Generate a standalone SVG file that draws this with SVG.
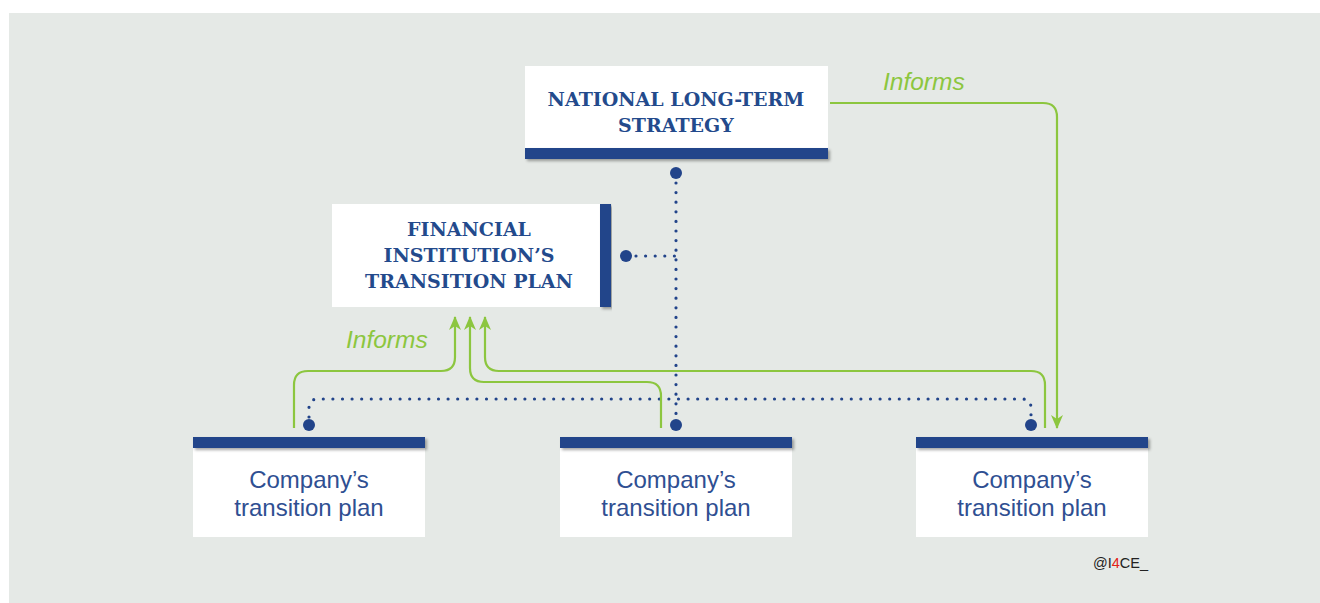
<svg xmlns="http://www.w3.org/2000/svg" width="1320" height="603" viewBox="0 0 1320 603">
<defs>
<style>
.title{font-family:"DejaVu Serif","Liberation Serif",serif;font-weight:bold;font-size:19px;fill:#234a8c;text-anchor:middle}
.co{font-family:"Liberation Sans",Arial,sans-serif;font-size:24px;fill:#2f4f92;text-anchor:middle}
.inf{font-family:"Liberation Sans",Arial,sans-serif;font-style:italic;font-size:24.5px;fill:#8cc63f}
.box{fill:#ffffff}
.bar{fill:#22448a;filter:url(#sh)}
.green{fill:none;stroke:#8cc63f;stroke-width:2.2}
.dots{fill:none;stroke:#22448a;stroke-width:3.2;stroke-linecap:round;stroke-dasharray:0 9.6}
.dot{fill:#22448a}
</style>
<filter id="sh" x="-5%" y="-50%" width="110%" height="200%">
<feDropShadow dx="2" dy="2" stdDeviation="1.5" flood-color="#000" flood-opacity="0.35"/>
</filter>
<marker id="ah" viewBox="0 0 14 12" refX="13" refY="6" markerWidth="14" markerHeight="12" markerUnits="userSpaceOnUse" orient="auto">
<path d="M0,0 L14,6 L0,12 L4,6 Z" fill="#8cc63f"/>
</marker>
</defs>
<rect x="9" y="13" width="1311" height="590" fill="#e5e9e6"/>

<g id="connectors">
<path class="dots" d="M676,183 V425"/>
<path class="dots" d="M636,256 H676"/>
<path class="dots" d="M309,417 V408 Q309,399 318,399 H1022 Q1031,399 1031,408 V417"/>
<path class="green" d="M294,428 V385 Q294,371 308,371 H441 Q455,371 455,357 V317" marker-end="url(#ah)"/>
<path class="green" d="M661,428 V396 Q661,382 647,382 H484 Q470,382 470,368 V317" marker-end="url(#ah)"/>
<path class="green" d="M1045,428 V385 Q1045,371 1031,371 H499 Q485,371 485,357 V317" marker-end="url(#ah)"/>
<path class="green" d="M830,103 H1043 Q1057,103 1057,117 V428" marker-end="url(#ah)"/>
<circle class="dot" cx="676" cy="173" r="6"/>
<circle class="dot" cx="626" cy="256" r="6"/>
<circle class="dot" cx="309" cy="425" r="6"/>
<circle class="dot" cx="676" cy="425" r="6"/>
<circle class="dot" cx="1031" cy="425" r="6"/>
<text class="inf" x="883" y="90">Informs</text>
<text class="inf" x="346" y="348">Informs</text>
</g>

<g id="national">
<rect class="box" x="525" y="66" width="303" height="84"/>
<rect class="bar" x="525" y="148" width="303" height="11"/>
<text class="title" x="676" y="106">NATIONAL LONG-TERM</text>
<text class="title" x="676" y="132">STRATEGY</text>
</g>

<g id="financial">
<rect class="box" x="332" y="204" width="270" height="103"/>
<rect class="bar" x="600" y="204" width="11" height="103"/>
<text class="title" x="469" y="236">FINANCIAL</text>
<text class="title" x="469" y="262">INSTITUTION’S</text>
<text class="title" x="469" y="288">TRANSITION PLAN</text>
</g>

<g id="company1">
<rect class="box" x="193" y="446" width="232" height="91"/>
<rect class="bar" x="193" y="437" width="232" height="11"/>
<text class="co" x="309" y="488">Company’s</text>
<text class="co" x="309" y="516">transition plan</text>
</g>

<g id="company2">
<rect class="box" x="560" y="446" width="232" height="91"/>
<rect class="bar" x="560" y="437" width="232" height="11"/>
<text class="co" x="676" y="488">Company’s</text>
<text class="co" x="676" y="516">transition plan</text>
</g>

<g id="company3">
<rect class="box" x="916" y="446" width="232" height="91"/>
<rect class="bar" x="916" y="437" width="232" height="11"/>
<text class="co" x="1032" y="488">Company’s</text>
<text class="co" x="1032" y="516">transition plan</text>
</g>

<text x="1093" y="568" font-family="'Liberation Sans',Arial,sans-serif" font-size="14.5" fill="#222222">@I<tspan fill="#e2231a">4</tspan>CE_</text>
</svg>
